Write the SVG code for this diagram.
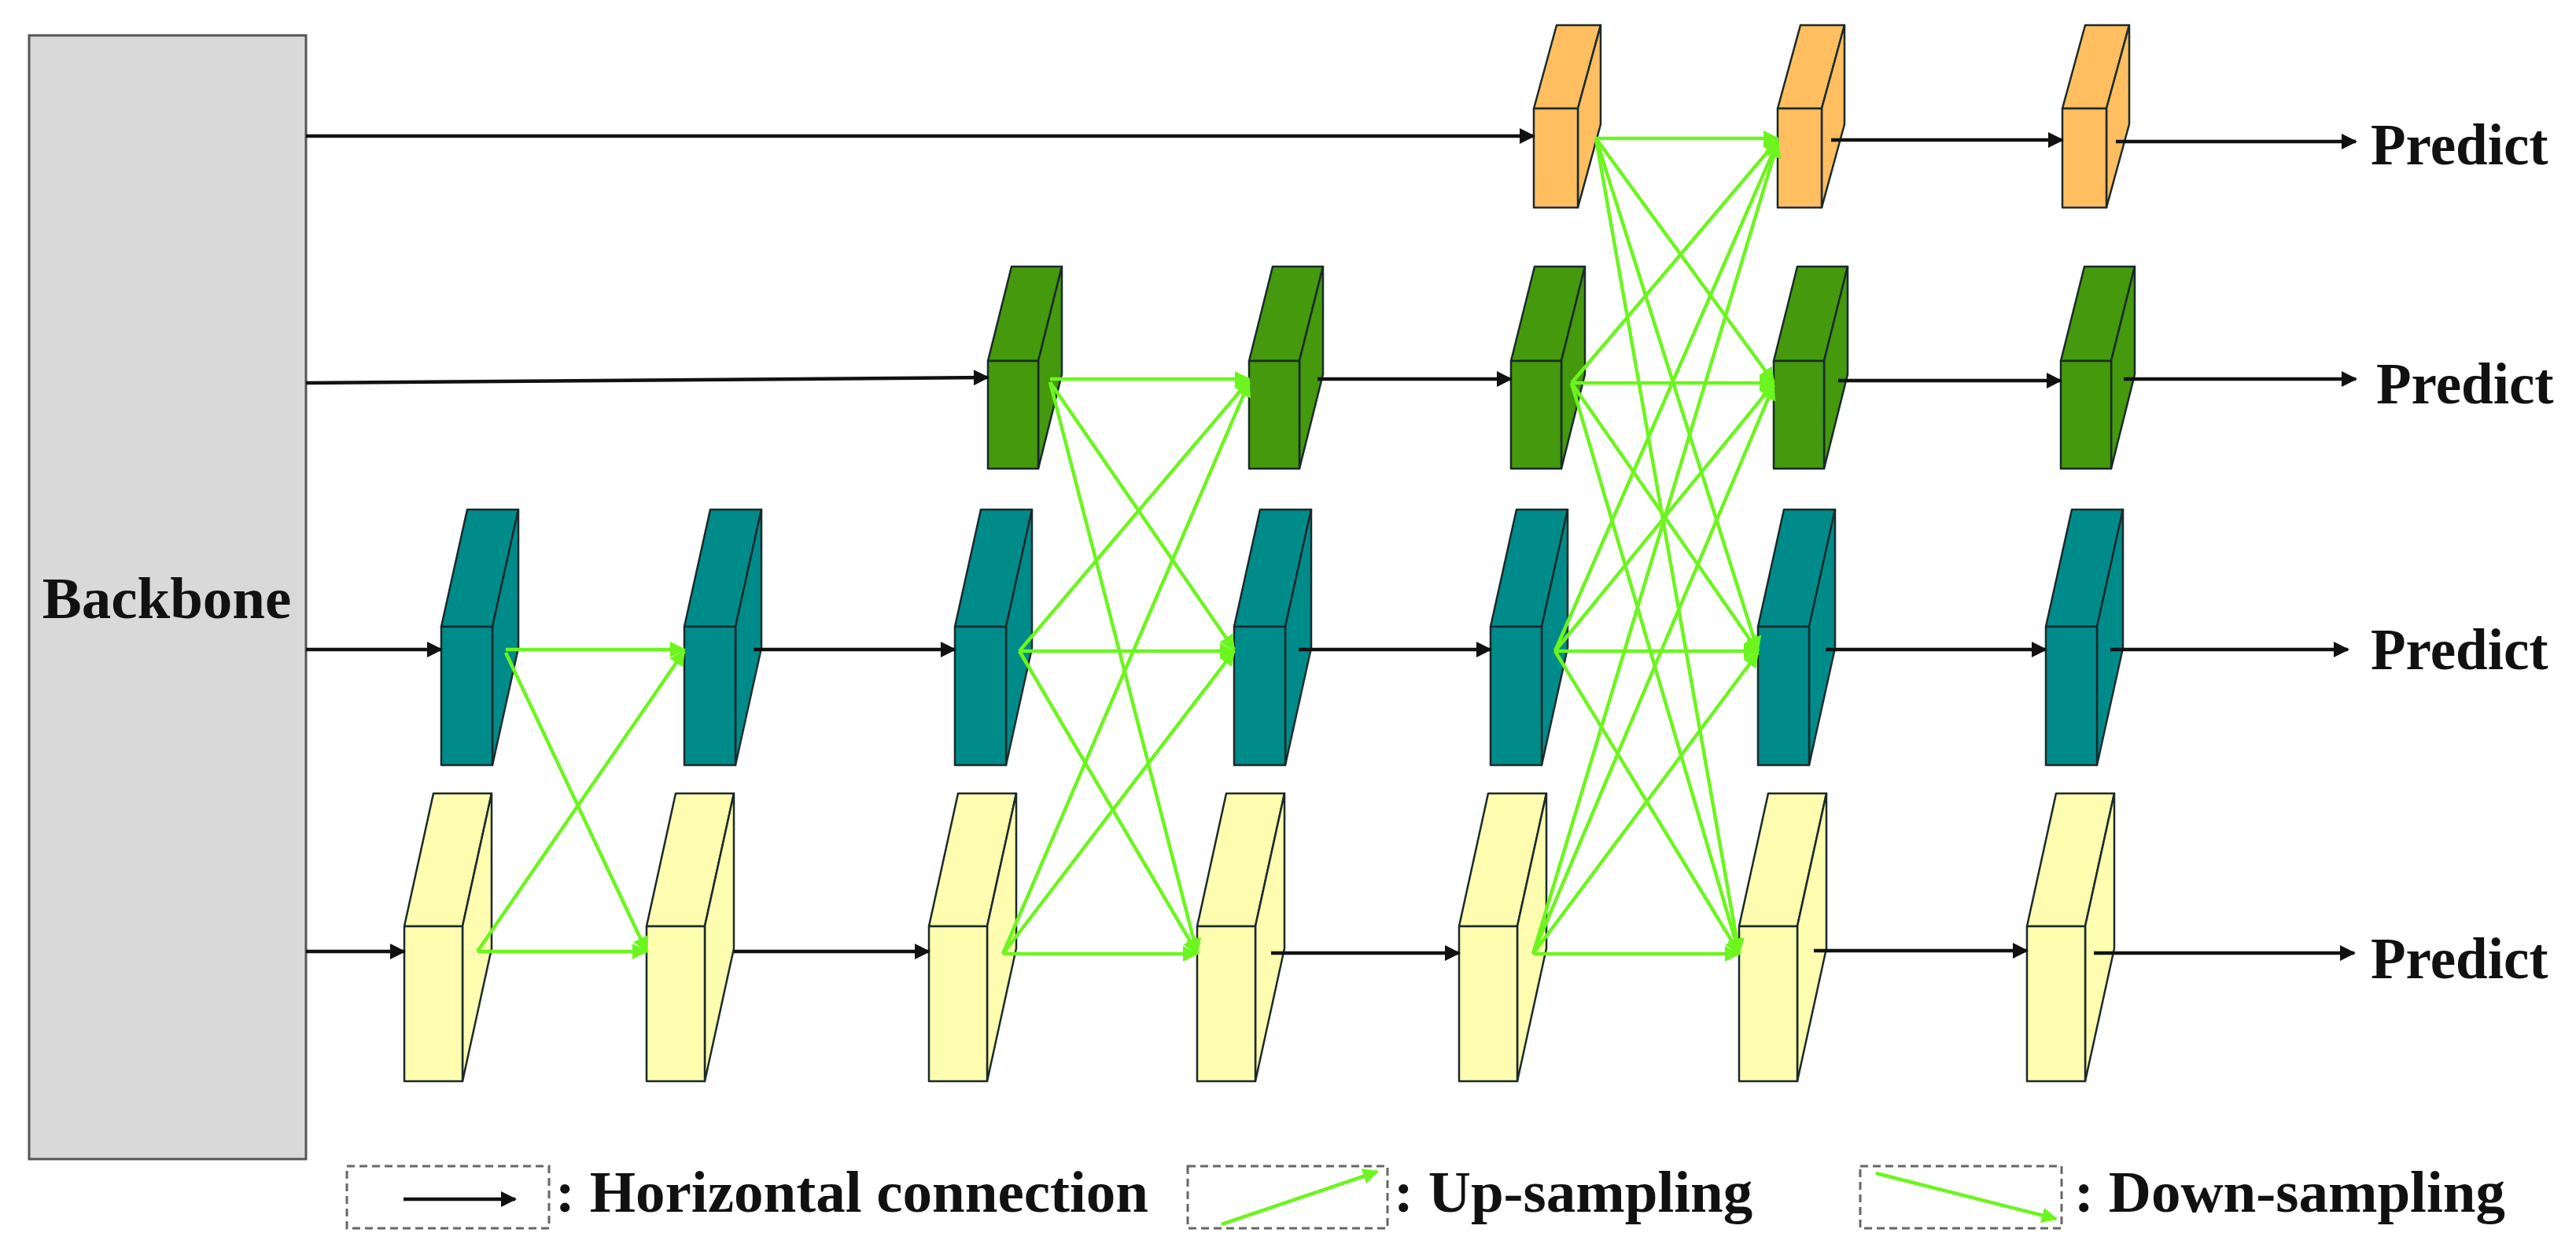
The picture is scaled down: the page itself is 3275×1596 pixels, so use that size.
<svg xmlns="http://www.w3.org/2000/svg" width="3275" height="1596" viewBox="0 0 3275 1596">
<style>
.t{font-family:"Liberation Serif","Times New Roman",serif;font-weight:bold;fill:#111}
.k{stroke:#111;stroke-width:4.5;fill:none}
.g{stroke:#6CF51E;stroke-width:4.5;fill:none}
.b{stroke:#1a2a2a;stroke-width:2.5;stroke-linejoin:round}
.or{fill:#FFBF60}.gr{fill:#45990C}.te{fill:#008B8B}.ye{fill:#FFFDB0}
.lg{fill:none;stroke:#666;stroke-width:3;stroke-dasharray:10 6}
</style>
<defs>
<marker id="ak" viewBox="0 0 10 10" refX="9" refY="5" markerWidth="26" markerHeight="20" markerUnits="userSpaceOnUse" orient="auto"><path d="M0,0L10,5L0,10z" fill="#111"/></marker>
<marker id="ag" viewBox="0 0 10 10" refX="9" refY="5" markerWidth="26" markerHeight="20" markerUnits="userSpaceOnUse" orient="auto"><path d="M0,0L10,5L0,10z" fill="#6CF51E"/></marker>
<g id="bo"><polygon class="b or" points="0,0 29,-106 85,-106 56,0"/><polygon class="b or" points="56,0 85,-106 85,20 56,126"/><rect class="b or" x="0" y="0" width="56" height="126"/></g>
<g id="bg"><polygon class="b gr" points="0,0 30,-120 94,-120 64,0"/><polygon class="b gr" points="64,0 94,-120 94,17 64,137"/><rect class="b gr" x="0" y="0" width="64" height="137"/></g>
<g id="bt"><polygon class="b te" points="0,0 33,-149 98,-149 65,0"/><polygon class="b te" points="65,0 98,-149 98,27 65,176"/><rect class="b te" x="0" y="0" width="65" height="176"/></g>
<g id="by"><polygon class="b ye" points="0,0 37,-169 111,-169 74,0"/><polygon class="b ye" points="74,0 111,-169 111,28 74,197"/><rect class="b ye" x="0" y="0" width="74" height="197"/></g>
</defs>
<rect width="3275" height="1596" fill="#fff"/>
<g id="backbone"><rect x="37" y="45" width="352" height="1429" fill="#D9D9D9" stroke="#555" stroke-width="3"/><text class="t" x="212" y="786" font-size="75" text-anchor="middle">Backbone</text></g>
<g id="nodes">
<use id="o1" href="#bo" x="1950" y="138"/><use id="o2" href="#bo" x="2260" y="138"/><use id="o3" href="#bo" x="2622" y="138"/>
<use id="g1" href="#bg" x="1256" y="459"/><use id="g2" href="#bg" x="1588" y="459"/><use id="g3" href="#bg" x="1921" y="459"/><use id="g4" href="#bg" x="2255" y="459"/><use id="g5" href="#bg" x="2620" y="459"/>
<use id="t1" href="#bt" x="561" y="797"/><use id="t2" href="#bt" x="870" y="797"/><use id="t3" href="#bt" x="1214" y="797"/><use id="t4" href="#bt" x="1569" y="797"/><use id="t5" href="#bt" x="1895" y="797"/><use id="t6" href="#bt" x="2235" y="797"/><use id="t7" href="#bt" x="2601" y="797"/>
<use id="y1" href="#by" x="514" y="1178"/><use id="y2" href="#by" x="822" y="1178"/><use id="y3" href="#by" x="1181" y="1178"/><use id="y4" href="#by" x="1522" y="1178"/><use id="y5" href="#by" x="1855" y="1178"/><use id="y6" href="#by" x="2211" y="1178"/><use id="y7" href="#by" x="2577" y="1178"/>
</g>
<g id="connectors">
<g class="k" marker-end="url(#ak)">
<path d="M389,173H1950"/><path d="M2328,178H2622"/><path d="M2690,180H2995"/>
<path d="M389,487L1256,480"/><path d="M1675,482H1921"/><path d="M2337,484H2620"/><path d="M2700,482H2995"/>
<path d="M389,826H561"/><path d="M958,826H1214"/><path d="M1651,826H1895"/><path d="M2321,826H2601"/><path d="M2683,826H2985"/>
<path d="M389,1210H514"/><path d="M933,1210H1181"/><path d="M1616,1212H1855"/><path d="M2306,1209H2577"/><path d="M2662,1212H2993"/>
</g>
<g class="g" marker-end="url(#ag)">
<path d="M643,826H870"/><path d="M643,830L822,1210"/><path d="M607,1210L870,828"/><path d="M607,1210H822"/>
<path d="M1335,482H1588"/><path d="M1335,486L1569,826"/><path d="M1335,486L1522,1212"/>
<path d="M1296,828L1588,484"/><path d="M1296,828H1569"/><path d="M1296,828L1522,1212"/>
<path d="M1275,1213L1588,486"/><path d="M1275,1213L1569,828"/><path d="M1275,1213H1522"/>
<path d="M2029,176H2260"/><path d="M2029,176L2255,486"/><path d="M2029,176L2235,828"/><path d="M2029,176L2211,1212"/>
<path d="M1998,487L2260,178"/><path d="M1998,487H2255"/><path d="M1998,487L2235,828"/><path d="M1998,487L2211,1212"/>
<path d="M1977,828L2260,180"/><path d="M1977,828L2255,488"/><path d="M1977,828H2235"/><path d="M1977,828L2211,1212"/>
<path d="M1949,1213L2260,182"/><path d="M1949,1213L2255,490"/><path d="M1949,1213L2235,830"/><path d="M1949,1213H2211"/>
</g>
</g>
<g id="predict">
<text class="t" x="3014" y="209" font-size="73">Predict</text>
<text class="t" x="3021" y="513" font-size="73">Predict</text>
<text class="t" x="3014" y="851" font-size="73">Predict</text>
<text class="t" x="3014" y="1244" font-size="73">Predict</text>
</g>
<g id="legend">
<rect class="lg" x="441" y="1483" width="257" height="79"/>
<path class="k" d="M513,1525H655" marker-end="url(#ak)"/>
<text class="t" x="706" y="1541" font-size="75">: Horizontal connection</text>
<rect class="lg" x="1510" y="1483" width="254" height="79"/>
<path class="g" d="M1553,1557L1751,1490" marker-end="url(#ag)"/>
<text class="t" x="1772" y="1541" font-size="75">: Up-sampling</text>
<rect class="lg" x="2365" y="1483" width="256" height="79"/>
<path class="g" d="M2385,1492L2614,1550" marker-end="url(#ag)"/>
<text class="t" x="2637" y="1541" font-size="75">: Down-sampling</text>
</g>
</svg>
